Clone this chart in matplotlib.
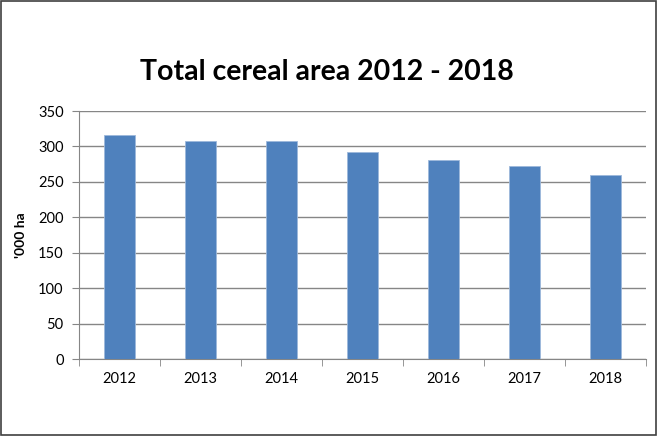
import matplotlib.pyplot as plt
import numpy as np
from matplotlib.patches import Rectangle

# Total cereal area by year ('000 ha)
years = ["2012", "2013", "2014", "2015", "2016", "2017", "2018"]
area = [316, 308, 307, 292, 281, 272, 260]

plt.rcParams['font.family'] = ['Lato', 'DejaVu Sans']

fig = plt.figure(figsize=(6.57, 4.36), dpi=100)
ax = fig.add_axes([0.1202, 0.1766, 0.8631, 0.5688])

x = np.arange(len(years))
ax.bar(x, area, width=0.39, color="#4F81BD", edgecolor="#9DB8DB", linewidth=0.6, zorder=3)

ax.set_xlim(-0.5, len(years) - 0.5)
ax.set_ylim(0, 350)
ax.set_yticks(np.arange(0, 351, 50))
ax.set_xticks(x)
ax.set_xticklabels(years, fontsize=10.5)
ax.tick_params(axis="y", labelsize=10.5, length=5, color="#868686", pad=6)
ax.tick_params(axis="x", length=0, pad=9)
# category boundary ticks on x axis
ax.set_xticks(np.arange(-0.5, len(years)), minor=True)
ax.tick_params(axis="x", which="minor", length=5, color="#868686")

ax.grid(axis="y", color="#868686", linewidth=1, zorder=0)
for s in ["top", "right"]:
    ax.spines[s].set_visible(False)
for s in ["left", "bottom"]:
    ax.spines[s].set_color("#868686")

ax.set_ylabel("'000 ha", fontsize=10, fontweight="bold", labelpad=8)
fig.text(0.497, 0.835, "Total cereal area 2012 - 2018", ha="center", va="center",
         fontsize=20.5, fontweight="bold")

# outer frame
fig.patches.append(Rectangle((0.002, 0.002), 0.996, 0.996, transform=fig.transFigure,
                             fill=False, edgecolor="#404040", linewidth=1.2))

fig.savefig("out.png", dpi=100)
